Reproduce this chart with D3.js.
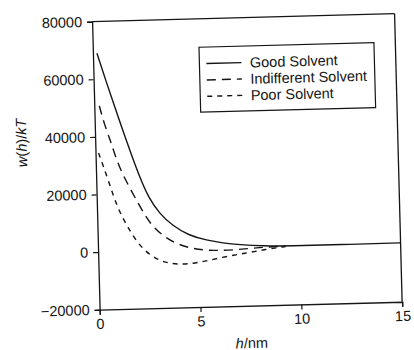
<!DOCTYPE html>
<html>
<head>
<meta charset="utf-8">
<script src="https://cdn.jsdelivr.net/npm/d3@7"></script>
<style>
  html, body { margin: 0; padding: 0; background: #fff; }
  svg { display: block; font-family: "Liberation Sans", Arial, Helvetica, sans-serif; }
</style>
</head>
<body>
<svg id="chart" width="414" height="350"></svg>
<script>
// ---- data ----
const goodH = [0.2, 0.6, 1.0, 1.4, 1.8, 2.15, 2.6, 3.1, 3.7, 4.5, 5.4, 6.2, 7.0, 8.2, 9.5, 12.0, 15.0];
const goodW = [69000, 59500, 50500, 41500, 33000, 25800, 18000, 12800, 8600, 5000, 3100, 2000, 1300, 600, 350, 400, 450];

const indiffH = [0.25, 0.5, 0.8, 1.0, 1.4, 2.1, 2.6, 3.2, 3.9, 4.7, 5.5, 6.4, 7.5, 8.3, 9.3];
const indiffW = [50700, 43600, 37700, 32400, 25300, 15900, 9400, 5200, 2100, 250, -450, -600, -150, 250, 350];

const poorH = [0.15, 0.6, 1.0, 1.5, 2.1, 2.95, 3.9, 5.0, 6.15, 7.3, 8.3, 9.3];
const poorW = [34400, 24850, 15400, 8300, 1200, -3600, -5200, -4600, -2900, -1700, -600, 250];

const seriesNames = ["Good Solvent", "Indifferent Solvent", "Poor Solvent"];
const xTicks = [0, 5, 10, 15];
const yTicks = [-20000, 0, 20000, 40000, 60000, 80000];

// ---- layout ----
const W = 302.6, H = 288.2;
const padL = 95.8, padT = 17.6;
const svg = d3.select("#chart");
const root = svg.append("g").attr("transform", "rotate(-1.5, 247.1, 161.7)");
const g = root.append("g").attr("transform", `translate(${padL},${padT})`);

const x = d3.scaleLinear().domain([0, 15]).range([0, W]);
const y = d3.scaleLinear().domain([-20000, 80000]).range([H, 0]);

const ink = "#151515";

// frame (top and right)
g.append("line").attr("x1", 0).attr("x2", W).attr("y1", 0).attr("y2", 0)
  .attr("stroke", ink).attr("stroke-width", 1.3);
g.append("line").attr("x1", W).attr("x2", W).attr("y1", 0).attr("y2", H)
  .attr("stroke", ink).attr("stroke-width", 1.3);

// axes
const xAxis = g.append("g").attr("transform", `translate(0,${H})`)
  .call(d3.axisBottom(x).tickValues(xTicks).tickSize(5).tickPadding(4).tickFormat(d3.format("d")));
const yAxis = g.append("g")
  .call(d3.axisLeft(y).tickValues(yTicks).tickSize(5).tickPadding(5).tickFormat(d3.format("d")));
[xAxis, yAxis].forEach(a => {
  a.select(".domain").attr("stroke", ink).attr("stroke-width", 1.3);
  a.selectAll(".tick line").attr("stroke", ink).attr("stroke-width", 1.2);
  a.selectAll(".tick text").attr("fill", ink).style("font-size", "14.5px");
});

// axis titles
g.append("text")
  .attr("x", x(7.5)).attr("y", 343 - padT).attr("dy", "0.35em")
  .attr("text-anchor", "middle").attr("fill", ink).style("font-size", "14.5px")
  .html('<tspan font-style="italic">h</tspan>/nm');

g.append("text")
  .attr("transform", `translate(${22 - padL},${137 - padT}) rotate(-90)`)
  .attr("dy", "0.35em").attr("text-anchor", "middle").attr("fill", ink).style("font-size", "14.5px")
  .html('<tspan font-style="italic">w</tspan>(<tspan font-style="italic">h</tspan>)/<tspan font-style="italic">kT</tspan>');

// curves
const line = d3.line().x(d => x(d[0])).y(d => y(d[1])).curve(d3.curveBasis);
const series = [
  { name: seriesNames[0], h: goodH, w: goodW, dash: null },
  { name: seriesNames[1], h: indiffH, w: indiffW, dash: "9,6" },
  { name: seriesNames[2], h: poorH, w: poorW, dash: "5,5" }
];
series.forEach(s => {
  g.append("path")
    .datum(d3.zip(s.h, s.w))
    .attr("d", line)
    .attr("fill", "none")
    .attr("stroke", ink)
    .attr("stroke-width", 1.4)
    .attr("stroke-dasharray", s.dash);
});

// legend
const lg = g.append("g").attr("transform", "translate(106.2,28.4)");
lg.append("rect").attr("width", 175).attr("height", 65)
  .attr("fill", "#fff").attr("stroke", ink).attr("stroke-width", 1.2);
series.forEach((s, i) => {
  const yy = 16.5 + i * 16.4;
  lg.append("line").attr("x1", 7).attr("x2", 42).attr("y1", yy).attr("y2", yy)
    .attr("stroke", ink).attr("stroke-width", 1.4).attr("stroke-dasharray", s.dash);
  lg.append("text").attr("x", 50.5).attr("y", yy).attr("dy", "0.35em")
    .attr("fill", ink).style("font-size", "14.5px").text(s.name);
});
</script>
</body>
</html>
